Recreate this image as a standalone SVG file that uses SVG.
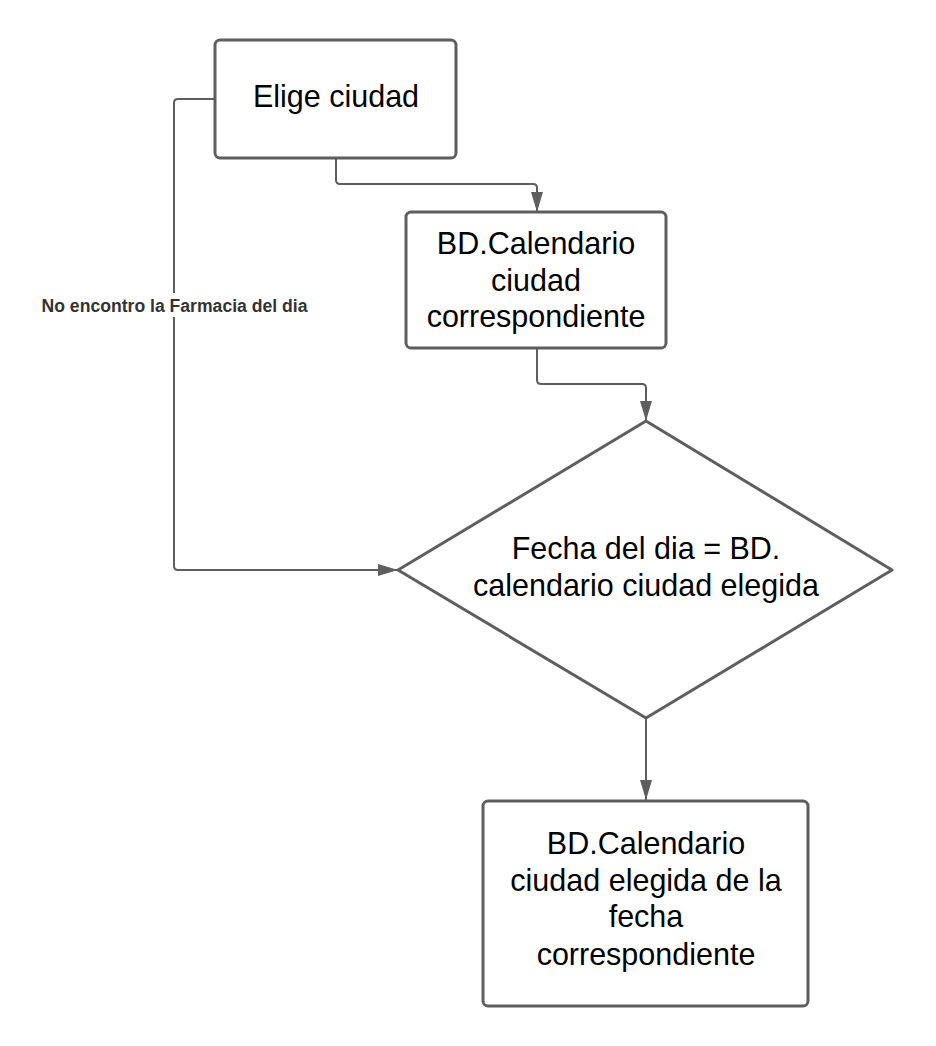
<svg xmlns="http://www.w3.org/2000/svg" width="936" height="1046" viewBox="0 0 936 1046">
<style>
.node{fill:#ffffff;stroke:#5e5e5e;stroke-width:3;stroke-linejoin:round}
.edge{fill:none;stroke:#5e5e5e;stroke-width:2;stroke-linejoin:round}
.t{font-family:"Liberation Sans",Arial,sans-serif;font-size:30.5px;fill:#000000;text-anchor:middle}
.lbl{font-family:"Liberation Sans",Arial,sans-serif;font-size:17.6px;font-weight:bold;fill:#333333;text-anchor:middle}
</style>
<defs>
<marker id="arr" viewBox="0 0 20 12" refX="20" refY="6" markerWidth="20" markerHeight="12" markerUnits="userSpaceOnUse" orient="auto">
<path d="M0,0 L20,6 L0,12 Z" fill="#5e5e5e"/>
</marker>
</defs>
<rect width="936" height="1046" fill="#ffffff"/>
<g id="connectors">
<path class="edge" d="M336,158 L336,180 Q336,184 340,184 L533,184 Q537,184 537,188 L537,212" marker-end="url(#arr)"/>
<path class="edge" d="M537,348 L537,380 Q537,384 541,384 L642,384 Q646,384 646,388 L646,421" marker-end="url(#arr)"/>
<path class="edge" d="M646,718 L646,800" marker-end="url(#arr)"/>
<path class="edge" d="M215,99 L178,99 Q174,99 174,103 L174,566 Q174,570 178,570 L398,570" marker-end="url(#arr)"/>
<rect x="37" y="293" width="275" height="24" fill="#ffffff"/>
<text class="lbl" x="174.5" y="311.5">No encontro la Farmacia del dia</text>
</g>
<g id="n1">
<rect class="node" x="215" y="40" width="241" height="118" rx="5"/>
<text class="t" x="336" y="107">Elige ciudad</text>
</g>
<g id="n2">
<rect class="node" x="406" y="212" width="260" height="136" rx="5"/>
<text class="t" x="536" y="254">BD.Calendario</text>
<text class="t" x="536" y="291">ciudad</text>
<text class="t" x="536" y="327">correspondiente</text>
</g>
<g id="n3">
<path class="node" d="M646,421 L892,570 L646,718 L398,570 Z"/>
<text class="t" x="646" y="559">Fecha del dia = BD.</text>
<text class="t" x="646" y="596">calendario ciudad elegida</text>
</g>
<g id="n4">
<rect class="node" x="483" y="801" width="325" height="205" rx="5"/>
<text class="t" x="646" y="854">BD.Calendario</text>
<text class="t" x="646" y="891">ciudad elegida de la</text>
<text class="t" x="646" y="927">fecha</text>
<text class="t" x="646" y="965">correspondiente</text>
</g>
</svg>
